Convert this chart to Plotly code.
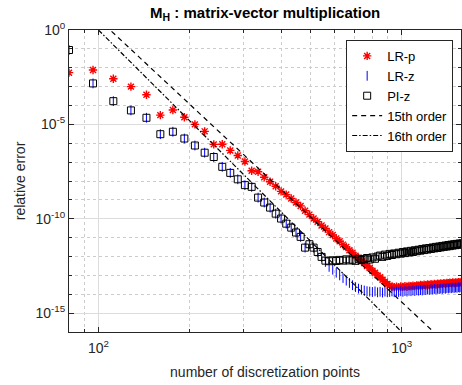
import plotly.graph_objects as go

# Number of discretization points (uniform step of 16)
n_points = [
    80, 96, 112, 128, 144, 160, 176, 192, 208, 224,
    240, 256, 272, 288, 304, 320, 336, 352, 368, 384,
    400, 416, 432, 448, 464, 480, 496, 512, 528, 544,
    560, 576, 592, 608, 624, 640, 656, 672, 688, 704,
    720, 736, 752, 768, 784, 800, 816, 832, 848, 864,
    880, 896, 912, 928, 944, 960, 976, 992, 1008, 1024,
    1040, 1056, 1072, 1088, 1104, 1120, 1136, 1152, 1168, 1184,
    1200, 1216, 1232, 1248, 1264, 1280, 1296, 1312, 1328, 1344,
    1360, 1376, 1392, 1408, 1424, 1440, 1456, 1472, 1488, 1504,
    1520, 1536, 1552, 1568, 1584,
]

# log10 of the relative error for each method
lr_p_log10 = [
    -2.26, -2.12, -2.58, -3.00, -3.43, -4.51, -4.24, -4.62, -5.00, -5.37,
    -6.06, -6.05, -6.38, -6.65, -6.97, -7.46, -7.51, -7.80, -8.04, -8.28,
    -8.55, -8.72, -8.93, -9.14, -9.32, -9.58, -9.78, -9.99, -10.16, -10.36,
    -10.52, -10.71, -10.86, -11.05, -11.19, -11.37, -11.50, -11.67, -11.80, -11.96,
    -12.08, -12.24, -12.35, -12.50, -12.61, -12.75, -12.86, -13.00, -13.10, -13.23,
    -13.33, -13.46, -13.55, -13.60, -13.62, -13.60, -13.63, -13.59, -13.61, -13.58,
    -13.60, -13.56, -13.58, -13.55, -13.57, -13.53, -13.55, -13.51, -13.54, -13.50,
    -13.52, -13.48, -13.51, -13.47, -13.49, -13.45, -13.48, -13.44, -13.46, -13.43,
    -13.45, -13.41, -13.44, -13.40, -13.42, -13.39, -13.41, -13.38, -13.40, -13.37,
    -13.39, -13.36, -13.38, -13.35, -13.37,
]

lr_z_log10 = [
    -1.06, -2.83, -3.77, -4.26, -4.65, -5.52, -5.39, -5.75, -6.12, -6.50,
    -6.73, -7.25, -7.57, -7.91, -8.22, -8.31, -8.88, -9.14, -9.41, -9.73,
    -9.99, -10.26, -10.47, -10.73, -10.96, -11.53, -11.35, -11.53, -11.76, -12.02,
    -12.29, -12.55, -12.70, -12.86, -13.00, -13.14, -13.28, -13.40, -13.52, -13.62,
    -13.70, -13.76, -13.80, -13.84, -13.86, -13.88, -13.85, -13.90, -13.87, -13.91,
    -13.86, -13.90, -13.88, -13.85, -13.89, -13.86, -13.88, -13.84, -13.87, -13.83,
    -13.86, -13.82, -13.84, -13.80, -13.83, -13.79, -13.81, -13.78, -13.80, -13.76,
    -13.78, -13.75, -13.77, -13.73, -13.76, -13.72, -13.74, -13.71, -13.73, -13.70,
    -13.72, -13.68, -13.71, -13.67, -13.69, -13.66, -13.68, -13.65, -13.67, -13.64,
    -13.66, -13.63, -13.65, -13.62, -13.64,
]

pi_z_log10 = [
    -1.06, -2.83, -3.77, -4.26, -4.65, -5.52, -5.39, -5.75, -6.12, -6.50,
    -6.73, -7.25, -7.57, -7.91, -8.22, -8.31, -8.88, -9.14, -9.41, -9.73,
    -9.99, -10.26, -10.47, -10.73, -10.96, -11.53, -11.35, -11.53, -11.76, -12.02,
    -12.22, -12.25, -12.20, -12.24, -12.18, -12.22, -12.15, -12.21, -12.17, -12.23,
    -12.12, -12.19, -12.14, -12.08, -12.16, -12.05, -12.12, -12.00, -11.95, -12.02,
    -11.90, -11.97, -11.86, -11.92, -11.84, -11.88, -11.80, -11.85, -11.76, -11.82,
    -11.73, -11.79, -11.70, -11.76, -11.67, -11.72, -11.64, -11.69, -11.60, -11.66,
    -11.57, -11.63, -11.55, -11.60, -11.52, -11.57, -11.49, -11.55, -11.47, -11.52,
    -11.44, -11.49, -11.42, -11.47, -11.39, -11.45, -11.37, -11.42, -11.35, -11.40,
    -11.33, -11.38, -11.31, -11.36, -11.30,
]

for series in (lr_p_log10, lr_z_log10, pi_z_log10):
    assert len(series) == len(n_points)

# Reference convergence rates: err = (N / N0)^(-order)
ref_orders = [15, 16]
ref_n0 = [109.3, 100.0]
ref_n_span = [[100, 1250], [100, 1000]]
ref_names = ["15th order", "16th order"]
ref_dash = ["5px,4px", "5px,2px,1.5px,2px"]

x_tick_vals = [100, 1000]
x_tick_text = ["10<sup>2</sup>", "10<sup>3</sup>"]
y_tick_vals = [1e0, 1e-5, 1e-10, 1e-15]
y_tick_text = ["10<sup>0</sup>", "10<sup>-5</sup>", "10<sup>-10</sup>", "10<sup>-15</sup>"]
x_minor_vals = [80, 90, 200, 300, 400, 500, 600, 700, 800, 900]
y_minor_vals = [10.0 ** -k for k in range(1, 17) if k % 5 != 0]

FONT = "Liberation Sans, Arial, Helvetica, sans-serif"
TEXT = "#262626"

fig = go.Figure()

fig.add_trace(go.Scatter(
    x=n_points, y=[10.0 ** v for v in lr_p_log10], mode="markers", name="LR-p",
    marker=dict(symbol="asterisk-open", size=7, color="red",
                line=dict(color="red", width=1.4)),
))
fig.add_trace(go.Scatter(
    x=n_points, y=[10.0 ** v for v in lr_z_log10], mode="markers", name="LR-z",
    marker=dict(symbol="line-ns-open", size=7, color="blue",
                line=dict(color="blue", width=1)),
))
fig.add_trace(go.Scatter(
    x=n_points, y=[10.0 ** v for v in pi_z_log10], mode="markers", name="PI-z",
    marker=dict(symbol="square-open", size=7, color="black",
                line=dict(color="black", width=1)),
))

for order, n0, span, name, dash in zip(ref_orders, ref_n0, ref_n_span, ref_names, ref_dash):
    fig.add_trace(go.Scatter(
        x=span, y=[(n / n0) ** (-order) for n in span], mode="lines", name=name,
        line=dict(color="black", width=1.2, dash=dash),
    ))

axis_common = dict(
    type="log", showline=True, linecolor=TEXT, linewidth=1, mirror="allticks",
    ticks="inside", ticklen=5, tickcolor=TEXT, showgrid=True,
    gridcolor="#dcdcdc", gridwidth=1, zeroline=False,
    tickfont=dict(family=FONT, size=14, color=TEXT),
)

fig.update_xaxes(
    **axis_common,
    range=[1.9031, 3.1951],
    tickvals=x_tick_vals, ticktext=x_tick_text,
    ticklabelstandoff=3,
    minor=dict(tickvals=x_minor_vals, ticks="inside", ticklen=3, tickcolor=TEXT,
               showgrid=True, gridcolor="#cccccc", griddash="dot", gridwidth=1),
    title=dict(text="number of discretization points",
               font=dict(family=FONT, size=14, color=TEXT), standoff=12),
)
fig.update_yaxes(
    **axis_common,
    range=[-16, 0],
    tickvals=y_tick_vals, ticktext=y_tick_text,
    minor=dict(tickvals=y_minor_vals, ticks="inside", ticklen=3, tickcolor=TEXT,
               showgrid=True, gridcolor="#cccccc", griddash="dot", gridwidth=1),
    title=dict(text="relative error",
               font=dict(family=FONT, size=14, color=TEXT), standoff=6),
)

fig.update_layout(
    width=462, height=385,
    margin=dict(l=69, r=1, t=30, b=53),
    paper_bgcolor="white", plot_bgcolor="white",
    title=dict(text="<b>M<sub>H</sub> : matrix-vector multiplication</b>",
               x=0.574, xanchor="center", y=0.966, yanchor="middle",
               font=dict(family=FONT, size=15, color="black")),
    legend=dict(x=0.98, y=0.967, xanchor="right", yanchor="top",
                bgcolor="white", bordercolor=TEXT, borderwidth=1,
                font=dict(family=FONT, size=13, color="black"),
                itemwidth=30, tracegroupgap=0),
    showlegend=True,
)

fig.write_html("out.html")
